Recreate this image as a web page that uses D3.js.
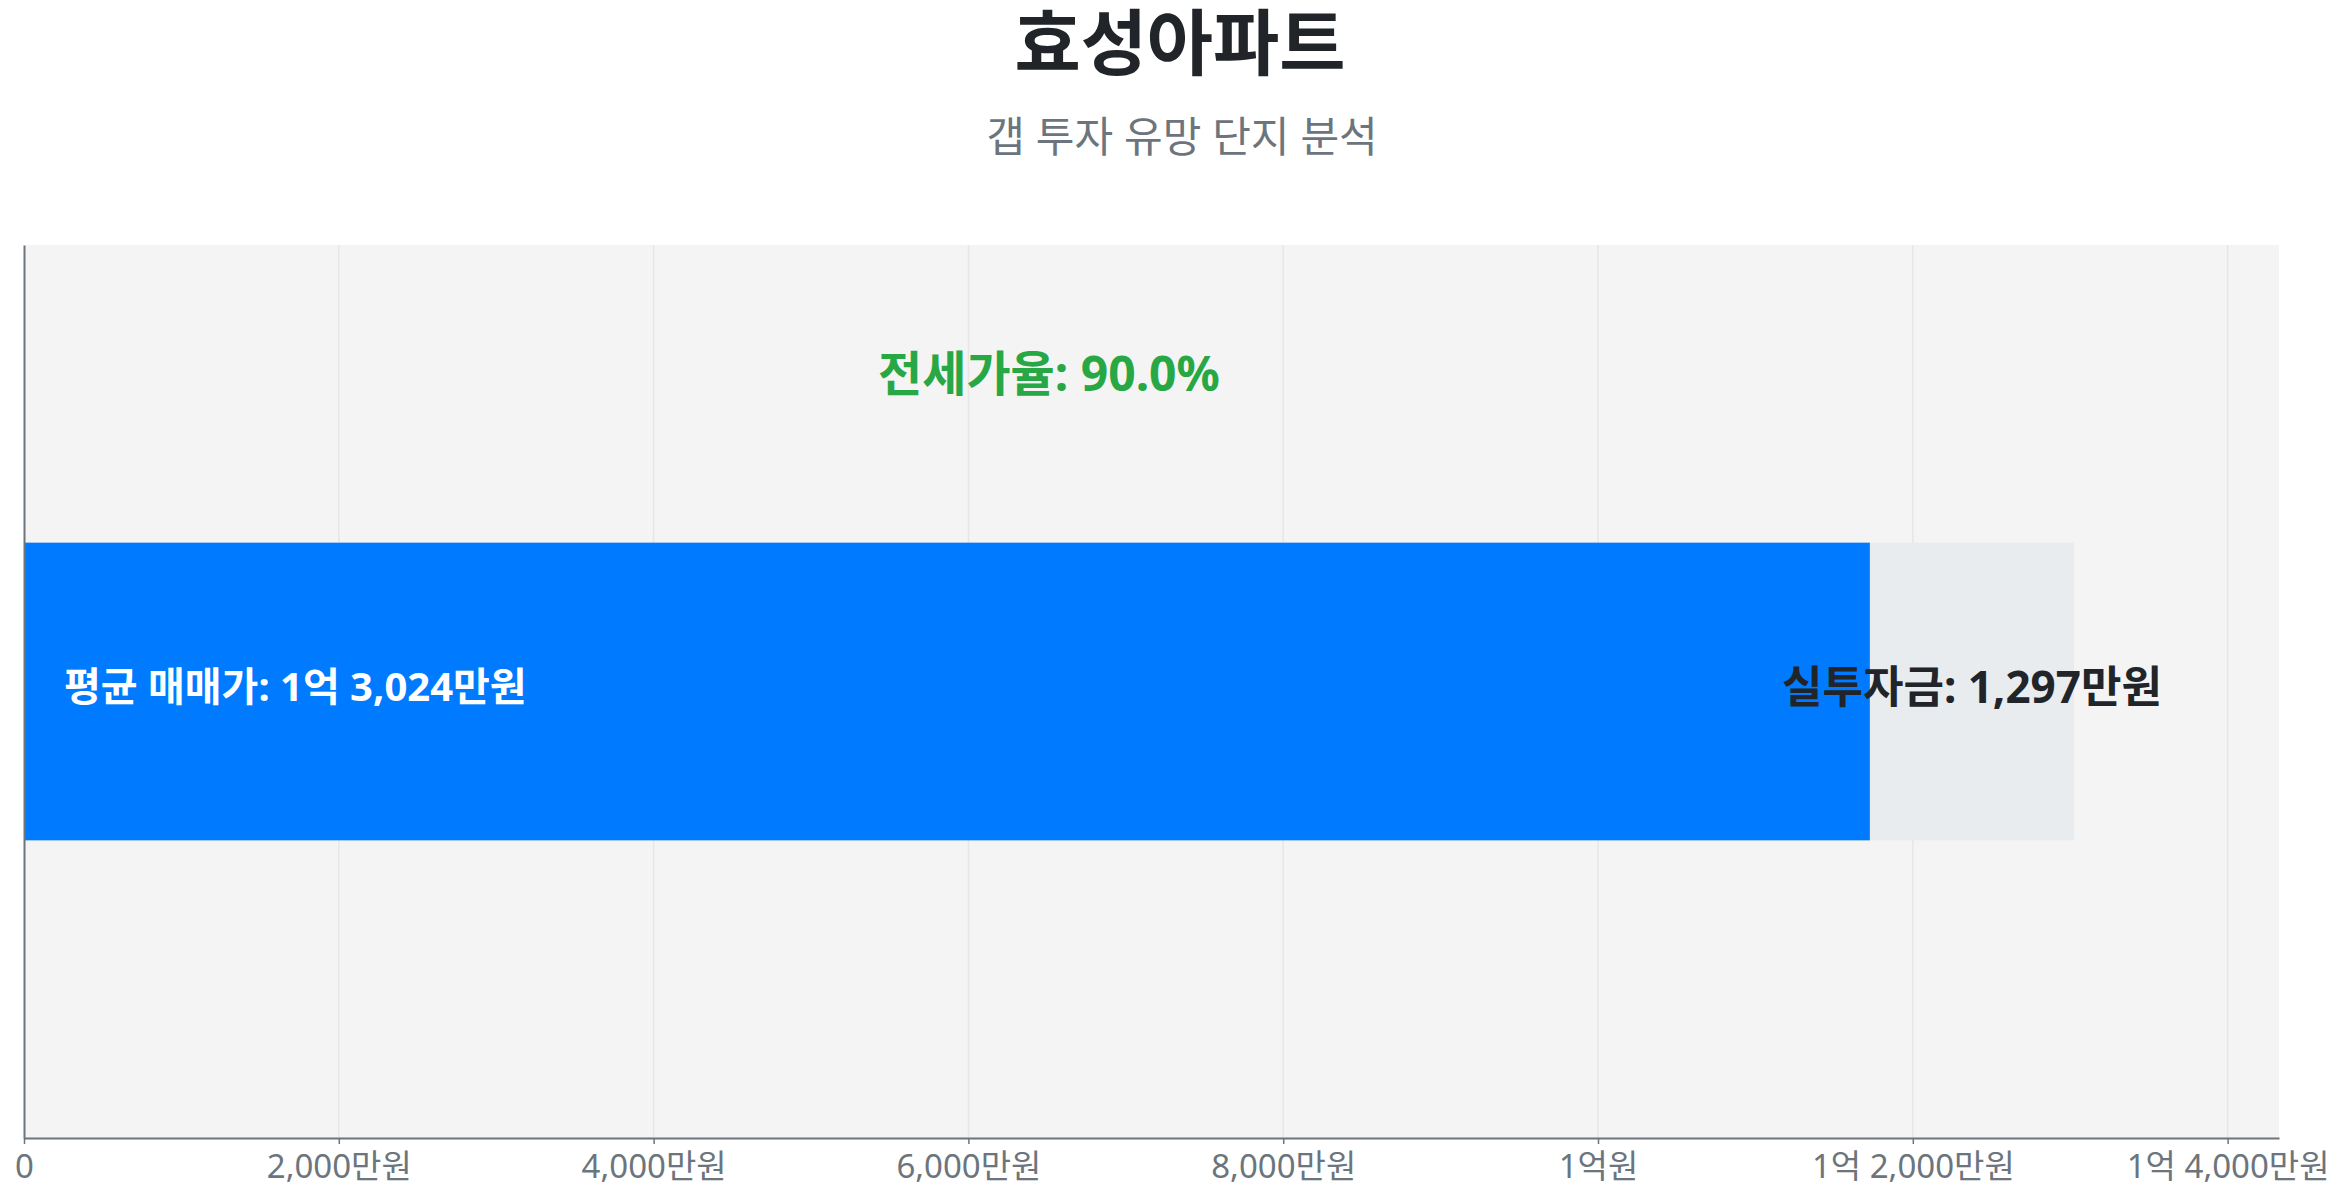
<!DOCTYPE html>
<html>
<head>
<meta charset="utf-8">
<script src="https://cdn.jsdelivr.net/npm/d3@7"></script>
<style>
  html, body { margin: 0; padding: 0; background: #ffffff; }
  svg { display: block; font-family: "Noto Sans", "Noto Sans CJK KR", sans-serif; }
</style>
</head>
<body>
<svg id="chart" width="2348" height="1200"></svg>
<script>
// ---- data (values in 만원) ----
const categories = ["효성아파트"];
const salePrice = [13024];      // 평균 매매가
const jeonsePrice = [11727];    // 전세가
const investment = [1297];      // 실투자금
const jeonseRatio = [90.0];     // 전세가율 (%)
const tickValues = [0, 2000, 4000, 6000, 8000, 10000, 12000, 14000];
const titleText = "효성아파트";
const subtitleText = "갭 투자 유망 단지 분석";

// ---- layout ----
const W = 2348, H = 1200;
const margin = { top: 245, right: 69, bottom: 62, left: 24 };
const iw = W - margin.left - margin.right;
const ih = H - margin.top - margin.bottom;
const FONT = '"Noto Sans", "Noto Sans CJK KR", sans-serif';

function fmtMan(v) {
  if (v === 0) return "0";
  const eok = Math.floor(v / 10000);
  const rem = v % 10000;
  if (eok > 0) {
    return rem === 0 ? `${eok}억원` : `${eok}억 ${d3.format(",")(rem)}만원`;
  }
  return `${d3.format(",")(rem)}만원`;
}

const svg = d3.select("#chart");

svg.append("text")
  .attr("x", 1180).attr("y", 41)
  .attr("text-anchor", "middle").attr("dominant-baseline", "central")
  .attr("font-size", 72).attr("font-weight", 700).attr("fill", "#212529")
  .text(titleText);

svg.append("text")
  .attr("x", 1182).attr("y", 135)
  .attr("text-anchor", "middle").attr("dominant-baseline", "central")
  .attr("font-size", 42).attr("fill", "#6c757d")
  .text(subtitleText);

const g = svg.append("g").attr("transform", `translate(${margin.left},${margin.top})`);

const x = d3.scaleLinear().domain([0, d3.max(salePrice) * 1.1]).range([0, iw]);
const y = d3.scaleBand().domain(categories).range([0, ih]).paddingInner(0.5).paddingOuter(0.5);

g.append("rect").attr("x", 0).attr("y", 0).attr("width", iw).attr("height", ih).attr("fill", "#f4f4f4");

// grid
g.append("g").selectAll("line").data(tickValues.filter(d => d > 0)).join("line")
  .attr("x1", d => x(d)).attr("x2", d => x(d))
  .attr("y1", 0).attr("y2", ih)
  .attr("stroke", "#e6e6e6").attr("stroke-width", 1.5);

const rows = categories.map((c, i) => ({ c, sale: salePrice[i], jeonse: jeonsePrice[i], inv: investment[i], ratio: jeonseRatio[i] }));

// total sale price bar (grey)
g.selectAll(".sale").data(rows).join("rect")
  .attr("class", "sale")
  .attr("x", x(0)).attr("y", d => y(d.c))
  .attr("width", d => x(d.sale) - x(0)).attr("height", y.bandwidth())
  .attr("fill", "#e9ecef");

// jeonse bar (blue)
g.selectAll(".jeonse").data(rows).join("rect")
  .attr("class", "jeonse")
  .attr("x", x(0)).attr("y", d => y(d.c))
  .attr("width", d => x(d.jeonse) - x(0)).attr("height", y.bandwidth())
  .attr("fill", "#007bff");

// labels
g.selectAll(".lbl-sale").data(rows).join("text")
  .attr("x", x(0) + 40).attr("y", d => y(d.c) + y.bandwidth() / 2 - 6)
  .attr("dominant-baseline", "central")
  .attr("font-size", 40).attr("font-weight", 700).attr("fill", "#ffffff")
  .text(d => `평균 매매가: ${fmtMan(d.sale)}`);

g.selectAll(".lbl-inv").data(rows).join("text")
  .attr("x", d => (x(d.jeonse) + x(d.sale)) / 2).attr("y", d => y(d.c) + y.bandwidth() / 2 - 6)
  .attr("text-anchor", "middle").attr("dominant-baseline", "central")
  .attr("font-size", 44).attr("font-weight", 700).attr("fill", "#212529")
  .text(d => `실투자금: ${d3.format(",")(d.inv)}만원`);

g.selectAll(".lbl-ratio").data(rows).join("text")
  .attr("x", d => x(d.sale / 2)).attr("y", d => y(d.c) - y.bandwidth() * 0.56 - 3)
  .attr("text-anchor", "middle").attr("dominant-baseline", "central")
  .attr("font-size", 48).attr("font-weight", 700).attr("fill", "#28a745")
  .text(d => `전세가율: ${d.ratio.toFixed(1)}%`);

// axes
const xAxis = g.append("g").attr("transform", `translate(0,${ih})`)
  .call(d3.axisBottom(x).tickValues(tickValues).tickFormat(fmtMan).tickSize(6).tickPadding(11).tickSizeOuter(0));
xAxis.select(".domain").attr("stroke", "#6c757d").attr("stroke-width", 2);
xAxis.selectAll(".tick line").attr("stroke", "#6c757d").attr("stroke-width", 1.5);
xAxis.selectAll(".tick text").attr("fill", "#6c757d").attr("font-size", 33)
  .attr("font-family", FONT);

const yAxis = g.append("g")
  .call(d3.axisLeft(y).tickSize(0).tickFormat(""));
yAxis.select(".domain").attr("stroke", "#6c757d").attr("stroke-width", 2);
</script>
</body>
</html>
